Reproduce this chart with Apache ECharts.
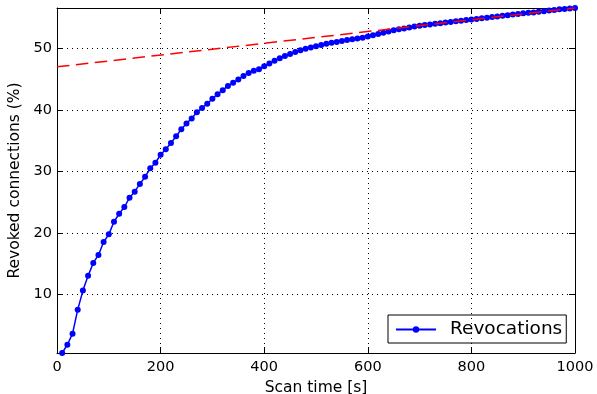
<!DOCTYPE html>
<html>
<head>
<meta charset="utf-8">
<script src="https://cdn.jsdelivr.net/npm/echarts@6/dist/echarts.min.js"></script>
</head>
<body style="margin:0;background:#fff">
<!-- chart container -->
<div id="main1" style="width: 597px;height:394px;"></div>
<script type="text/javascript">
    // scan time (s) and percentage of revoked connections
    var scanTime = [];
    for (var i = 1; i <= 100; i++) { scanTime.push(i * 10); }
    var revoked = [
        0.45, 1.8, 3.6, 7.5, 10.6, 13.0, 15.1, 16.4, 18.5, 19.75,
        21.8, 23.1, 24.2, 25.7, 26.7, 27.95, 29.1, 30.5, 31.4, 32.7,
        33.6, 34.6, 35.7, 36.85, 37.8, 38.6, 39.6, 40.3, 41.0, 41.8,
        42.55, 43.2, 43.9, 44.4, 44.95, 45.5, 46.0, 46.35, 46.6, 47.1,
        47.55, 48.0, 48.4, 48.75, 49.1, 49.4, 49.7, 49.95, 50.15, 50.35,
        50.55, 50.75, 50.9, 51.05, 51.2, 51.35, 51.5, 51.6, 51.75, 51.95,
        52.15, 52.35, 52.55, 52.75, 52.95, 53.1, 53.25, 53.4, 53.55, 53.7,
        53.8, 53.9, 54.0, 54.1, 54.2, 54.3, 54.4, 54.5, 54.6, 54.7,
        54.8, 54.9, 55.0, 55.1, 55.2, 55.3, 55.4, 55.5, 55.6, 55.7,
        55.8, 55.85, 55.95, 56.05, 56.15, 56.25, 56.35, 56.4, 56.5, 56.57
    ];
    // linear fit of the tail (red dashed)
    var fitX = [0, 1000];
    var fitY = [47.0, 56.57];
    var yTicks = [10, 20, 30, 40, 50];

    var font = 'DejaVu Sans';
    var myChart = echarts.init(document.getElementById('main1'));

    var pts = scanTime.map(function (x, i) { return [x, revoked[i]]; });
    var fit = fitX.map(function (x, i) { return [x, fitY[i]]; });

    var tickStyle = {show: true, inside: true, length: 6, lineStyle: {color: '#000', width: 1}};
    var gridLine = {show: true, lineStyle: {color: '#000', type: [1, 4], width: 1}};

    option = {
        animation: false,
        grid: {left: 57, right: 22, top: 8, bottom: 41, containLabel: false, outerBoundsMode: 'none'},
        legend: {
            left: 388,
            top: 315,
            data: ['Revocations'],
            borderColor: '#000',
            borderWidth: 1,
            borderRadius: 0,
            padding: [5, 4, 4, 7],
            itemWidth: 40,
            itemHeight: 8,
            textStyle: {fontFamily: font, fontSize: 18.5, color: '#000', padding: [0, 0, 0, 9]}
        },
        xAxis: [
            {
                type: 'value',
                min: 0, max: 1000, interval: 200,
                name: 'Scan time [s]',
                nameLocation: 'middle',
                nameGap: 21,
                nameTextStyle: {fontFamily: font, fontSize: 15.5, color: '#000'},
                axisLine: {onZero: false, lineStyle: {color: '#000', width: 1}},
                axisTick: tickStyle,
                axisLabel: {fontFamily: font, fontSize: 14.5, color: '#000', margin: 7,
                    formatter: function (v) { return String(v); }},
                splitLine: gridLine
            },
            {
                type: 'value', position: 'top',
                min: 0, max: 1000, interval: 200,
                axisLine: {onZero: false, lineStyle: {color: '#000', width: 1}},
                axisTick: tickStyle,
                axisLabel: {show: false},
                splitLine: {show: false}
            }
        ],
        yAxis: [
            {
                type: 'value',
                min: 0.45, max: 56.57,
                name: 'Revoked connections (%)',
                nameLocation: 'middle',
                nameGap: 29,
                nameTextStyle: {fontFamily: font, fontSize: 15.5, color: '#000'},
                axisLine: {onZero: false, lineStyle: {color: '#000', width: 1}},
                axisTick: {show: true, inside: true, length: 6, customValues: yTicks, lineStyle: {color: '#000'}},
                axisLabel: {fontFamily: font, fontSize: 14.5, color: '#000', margin: 5, customValues: yTicks},
                splitLine: gridLine
            },
            {
                type: 'value', position: 'right',
                min: 0.45, max: 56.57,
                axisLine: {onZero: false, lineStyle: {color: '#000', width: 1}},
                axisTick: {show: true, inside: true, length: 6, customValues: yTicks, lineStyle: {color: '#000'}},
                axisLabel: {show: false},
                splitLine: {show: false}
            }
        ],
        series: [
            {
                name: 'Fit',
                type: 'line',
                data: fit,
                symbol: 'none',
                lineStyle: {color: '#ff0000', width: 1.5, type: [12.5, 6.5]},
                z: 3
            },
            {
                name: 'Revocations',
                type: 'line',
                data: pts,
                symbol: 'circle',
                symbolSize: 6,
                clip: true,
                itemStyle: {color: '#0000ff'},
                lineStyle: {color: '#0000ff', width: 1.5},
                z: 2
            }
        ]
    };
    myChart.setOption(option);
</script>
</body>
</html>
